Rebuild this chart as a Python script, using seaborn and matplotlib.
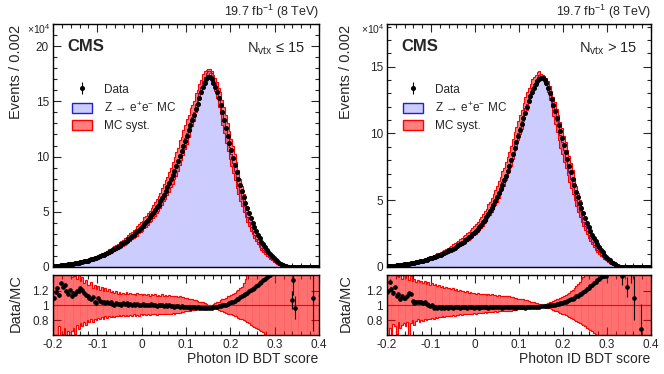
# Photon ID BDT score, data vs Z->ee MC, two pileup bins
import numpy as np
import pandas as pd
import matplotlib
matplotlib.use('Agg')
import matplotlib.pyplot as plt
from matplotlib.patches import Patch
from matplotlib.ticker import MultipleLocator
import seaborn as sns

sns.set_style('ticks')
plt.rcParams['font.family'] = ['Liberation Sans', 'DejaVu Sans']
plt.rcParams['mathtext.fontset'] = 'custom'
plt.rcParams['mathtext.rm'] = 'Liberation Sans'
plt.rcParams['mathtext.it'] = 'Liberation Sans:italic'
plt.rcParams['mathtext.bf'] = 'Liberation Sans:bold'
plt.rcParams['axes.unicode_minus'] = False

# 150 bins of 0.004 between -0.2 and 0.4 (values are events / 0.002, in units of 1e4)
edges = np.linspace(-0.2, 0.4, 151)
centers = 0.5 * (edges[:-1] + edges[1:])

# ---- N_vtx <= 15 ----
data_low = [
    0.08, 0.10, 0.11, 0.13, 0.15, 0.17, 0.19, 0.21, 0.23, 0.25,
    0.28, 0.30, 0.33, 0.36, 0.39, 0.42, 0.46, 0.50, 0.54, 0.58,
    0.63, 0.68, 0.73, 0.79, 0.85, 0.91, 0.98, 1.05, 1.12, 1.20,
    1.28, 1.36, 1.44, 1.53, 1.62, 1.72, 1.82, 1.93, 2.04, 2.15,
    2.27, 2.39, 2.52, 2.65, 2.79, 2.93, 3.08, 3.23, 3.39, 3.55,
    3.72, 3.90, 4.09, 4.28, 4.49, 4.70, 4.92, 5.15, 5.39, 5.64,
    5.95, 6.25, 6.56, 6.88, 7.22, 7.57, 7.93, 8.31, 8.70, 9.10,
    9.60, 10.05, 10.5, 10.95, 11.42, 11.9, 12.38, 12.85, 13.32, 13.78,
    14.3, 14.8, 15.3, 15.8, 16.3, 16.7, 17.0, 17.2, 17.2, 17.0,
    16.7, 16.3, 15.8, 15.3, 14.7, 14.0, 13.3, 12.6, 11.9, 11.2,
    10.6, 9.9, 9.25, 8.6, 8.0, 7.4, 6.85, 6.3, 5.8, 5.3,
    4.85, 4.4, 4.0, 3.6, 3.25, 2.9, 2.6, 2.3, 2.05, 1.8,
    1.58, 1.36, 1.16, 0.97, 0.80, 0.64, 0.50, 0.38, 0.28, 0.20,
    0.13, 0.08, 0.045, 0.018, 0.004, 0.0022, 0.002, 0.001, 0.0007, 0.0005,
    0.0004, 0.0003, 0.00025, 0.0002, 0.00015, 0.0002, 0.0003, 0.0001, 0.0001, 0.0001]
ratio_low = [
    1.10, 1.18, 1.23, 1.14, 1.30, 1.25, 1.28, 1.20, 1.16, 1.21,
    1.12, 1.17, 1.15, 1.20, 1.19, 1.23, 1.21, 1.17, 1.14, 1.12,
    1.10, 1.08, 1.11, 1.05, 1.03, 1.10, 1.06, 1.04, 1.05, 1.03,
    1.05, 1.03, 1.04, 1.02, 1.01, 1.03, 1.02, 1.02, 1.00, 1.03,
    1.02, 1.03, 1.01, 1.02, 1.00, 1.02, 1.01, 1.02, 1.00, 1.01,
    1.02, 1.00, 1.01, 1.01, 1.00, 1.02, 1.00, 1.01, 0.99, 1.00,
    1.01, 1.00, 0.99, 1.00, 0.99, 1.00, 0.99, 0.99, 0.98, 0.99,
    0.99, 0.98, 0.99, 0.98, 0.98, 0.98, 0.98, 0.97, 0.98, 0.98,
    0.97, 0.98, 0.97, 0.97, 0.97, 0.97, 0.97, 0.97, 0.97, 0.97,
    0.98, 0.98, 0.98, 0.99, 0.99, 1.00, 1.00, 1.01, 1.02, 1.03,
    1.04, 1.05, 1.06, 1.08, 1.09, 1.11, 1.12, 1.14, 1.16, 1.17,
    1.19, 1.21, 1.22, 1.24, 1.26, 1.28, 1.30, 1.32, 1.34, 1.36,
    1.38, 1.40, 1.41, 1.45, 1.48, 1.52, 1.56, 1.60, 1.65, 1.70,
    1.75, 1.85, 1.95, 2.10, 1.07, 1.34, 0.97, np.nan, np.nan, np.nan,
    np.nan, np.nan, np.nan, np.nan, np.nan, np.nan, 1.10, np.nan, np.nan, np.nan]
syst_up_low = [
    1.80, 1.60, 1.50, 1.70, 1.45, 1.90, 1.50, 1.60, 1.42, 1.50,
    1.38, 1.45, 1.40, 1.36, 1.42, 1.33, 1.38, 1.30, 1.34, 1.28,
    1.27, 1.31, 1.24, 1.28, 1.22, 1.26, 1.21, 1.25, 1.20, 1.23,
    1.19, 1.22, 1.18, 1.20, 1.17, 1.19, 1.16, 1.18, 1.15, 1.17,
    1.16, 1.18, 1.15, 1.17, 1.15, 1.16, 1.14, 1.17, 1.15, 1.16,
    1.14, 1.16, 1.14, 1.15, 1.13, 1.16, 1.14, 1.15, 1.13, 1.14,
    1.13, 1.15, 1.13, 1.14, 1.12, 1.14, 1.12, 1.13, 1.12, 1.13,
    1.11, 1.12, 1.11, 1.11, 1.10, 1.10, 1.09, 1.09, 1.08, 1.07,
    1.07, 1.06, 1.05, 1.04, 1.04, 1.03, 1.02, 1.01, 1.01, 1.01,
    1.02, 1.03, 1.04, 1.05, 1.07, 1.08, 1.09, 1.10, 1.12, 1.13,
    1.14, 1.16, 1.17, 1.19, 1.21, 1.23, 1.25, 1.30, 1.36, 1.42] + [2.0] * 40
syst_dn_low = [
    0.50, 0.60, 0.55, 0.72, 0.50, 0.62, 0.70, 0.55, 0.66, 0.58,
    0.65, 0.70, 0.62, 0.74, 0.68, 0.76, 0.72, 0.78, 0.74, 0.80,
    0.77, 0.81, 0.78, 0.82, 0.80, 0.83, 0.81, 0.84, 0.82, 0.85,
    0.83, 0.85, 0.84, 0.86, 0.84, 0.86, 0.85, 0.87, 0.85, 0.87,
    0.86, 0.87, 0.85, 0.87, 0.86, 0.88, 0.86, 0.87, 0.86, 0.88,
    0.87, 0.88, 0.87, 0.88, 0.87, 0.89, 0.88, 0.88, 0.87, 0.89,
    0.88, 0.89, 0.88, 0.89, 0.88, 0.89, 0.89, 0.90, 0.89, 0.90,
    0.90, 0.90, 0.91, 0.91, 0.92, 0.92, 0.93, 0.93, 0.94, 0.94,
    0.95, 0.95, 0.96, 0.96, 0.97, 0.97, 0.98, 0.98, 0.99, 0.98,
    0.97, 0.96, 0.95, 0.94, 0.93, 0.92, 0.91, 0.90, 0.89, 0.88,
    0.88, 0.87, 0.86, 0.85, 0.83, 0.82, 0.81, 0.80, 0.79, 0.77,
    0.76, 0.74, 0.72, 0.71, 0.70, 0.68, 0.67, 0.66, 0.64, 0.62] + [0.0] * 30

# ---- N_vtx > 15 ----
data_high = [
    0.07, 0.08, 0.09, 0.10, 0.11, 0.13, 0.14, 0.16, 0.18, 0.20,
    0.22, 0.24, 0.26, 0.28, 0.31, 0.33, 0.36, 0.39, 0.42, 0.45,
    0.48, 0.52, 0.56, 0.60, 0.64, 0.68, 0.73, 0.78, 0.83, 0.88,
    0.93, 0.99, 1.05, 1.11, 1.17, 1.24, 1.31, 1.38, 1.46, 1.54,
    1.62, 1.71, 1.80, 1.90, 2.00, 2.10, 2.21, 2.32, 2.44, 2.56,
    2.70, 2.85, 3.01, 3.18, 3.36, 3.55, 3.75, 3.96, 4.18, 4.41,
    4.68, 4.95, 5.24, 5.54, 5.85, 6.17, 6.50, 6.84, 7.19, 7.55,
    8.00, 8.45, 8.90, 9.35, 9.80, 10.25, 10.7, 11.14, 11.57, 11.98,
    12.4, 12.78, 13.12, 13.43, 13.7, 13.92, 14.07, 14.15, 14.12, 14.0,
    13.75, 13.4, 13.0, 12.58, 12.13, 11.66, 11.17, 10.67, 10.16, 9.65,
    9.13, 8.61, 8.09, 7.58, 7.08, 6.59, 6.11, 5.65, 5.21, 4.79,
    4.39, 4.01, 3.65, 3.31, 2.99, 2.69, 2.41, 2.15, 1.91, 1.69,
    1.48, 1.28, 1.10, 0.93, 0.77, 0.63, 0.50, 0.39, 0.30, 0.22,
    0.10, 0.05, 0.02, 0.0058, 0.004, 0.003, 0.0046, 0.003, 0.0014, 0.001,
    0.00067, 0.0005, 0.0004, 0.0003, 0.0002, 0.0002, 0.00015, 0.0001, 0.0001, 0.0001]
ratio_high = [
    1.19, 1.32, 1.22, 1.17, 1.25, 1.13, 1.15, 1.09, 1.12, 1.10,
    1.10, 1.12, 1.17, 1.15, 1.06, 1.03, 1.05, 1.04, 1.05, 1.04,
    1.03, 1.04, 1.02, 1.01, 0.99, 1.00, 0.97, 0.98, 0.97, 0.98,
    0.97, 0.98, 0.97, 0.98, 0.97, 0.98, 0.98, 0.97, 0.98, 0.98,
    0.98, 0.97, 0.98, 0.98, 0.98, 0.97, 0.98, 0.98, 0.98, 0.97,
    0.98, 0.98, 0.97, 0.98, 0.98, 0.98, 0.98, 0.97, 0.98, 0.98,
    0.98, 0.98, 0.98, 0.98, 0.98, 0.97, 0.98, 0.98, 0.98, 0.98,
    0.98, 0.98, 0.97, 0.98, 0.98, 0.98, 0.98, 0.98, 0.97, 0.98,
    0.98, 0.98, 0.98, 0.98, 0.98, 0.98, 0.98, 0.99, 0.99, 0.99,
    0.99, 0.99, 1.00, 1.00, 1.01, 1.01, 1.02, 1.02, 1.03, 1.03,
    1.04, 1.05, 1.06, 1.07, 1.08, 1.09, 1.10, 1.12, 1.13, 1.15,
    1.16, 1.18, 1.20, 1.22, 1.24, 1.26, 1.28, 1.30, 1.32, 1.34,
    1.36, 1.38, 1.39, 1.40, 1.40, 1.45, 1.50, 1.55, 1.60, 1.65,
    1.70, 1.80, 1.90, 1.40, np.nan, np.nan, 1.25, np.nan, 1.60, np.nan,
    1.10, np.nan, np.nan, np.nan, 0.68, np.nan, np.nan, np.nan, np.nan, np.nan]
syst_up_high = [
    1.90, 1.60, 1.50, 1.45, 1.80, 1.40, 1.38, 1.50, 1.36, 1.42,
    1.37, 1.45, 1.34, 1.40, 1.33, 1.36, 1.32, 1.34, 1.31, 1.33,
    1.30, 1.33, 1.29, 1.31, 1.28, 1.30, 1.27, 1.29, 1.26, 1.27,
    1.25, 1.26, 1.24, 1.25, 1.23, 1.24, 1.22, 1.23, 1.21, 1.22,
    1.20, 1.21, 1.19, 1.20, 1.18, 1.19, 1.17, 1.18, 1.17, 1.17,
    1.16, 1.17, 1.15, 1.16, 1.15, 1.16, 1.14, 1.15, 1.14, 1.15,
    1.14, 1.14, 1.13, 1.14, 1.13, 1.13, 1.12, 1.13, 1.12, 1.12,
    1.11, 1.11, 1.10, 1.10, 1.09, 1.09, 1.08, 1.08, 1.07, 1.07,
    1.06, 1.05, 1.05, 1.04, 1.03, 1.03, 1.02, 1.01, 1.01, 1.01,
    1.02, 1.03, 1.04, 1.05, 1.06, 1.07, 1.08, 1.09, 1.10, 1.11,
    1.12, 1.14, 1.15, 1.17, 1.19, 1.21, 1.23, 1.26, 1.29, 1.32,
    1.35, 1.38, 1.42] + [2.0] * 37
syst_dn_high = [
    0.55, 0.70, 0.60, 0.75, 0.72, 0.62, 0.78, 0.70, 0.74, 0.76,
    0.72, 0.78, 0.55, 0.76, 0.80, 0.74, 0.79, 0.81, 0.78, 0.80,
    0.79, 0.81, 0.80, 0.82, 0.81, 0.83, 0.82, 0.84, 0.83, 0.84,
    0.84, 0.85, 0.84, 0.86, 0.85, 0.86, 0.86, 0.87, 0.86, 0.87,
    0.87, 0.88, 0.87, 0.88, 0.88, 0.89, 0.88, 0.89, 0.89, 0.90,
    0.89, 0.90, 0.90, 0.90, 0.90, 0.91, 0.90, 0.91, 0.91, 0.91,
    0.91, 0.92, 0.91, 0.92, 0.92, 0.92, 0.92, 0.93, 0.93, 0.93,
    0.93, 0.94, 0.94, 0.94, 0.95, 0.95, 0.95, 0.96, 0.96, 0.96,
    0.97, 0.97, 0.97, 0.98, 0.98, 0.98, 0.99, 0.99, 0.99, 0.98,
    0.98, 0.97, 0.96, 0.95, 0.94, 0.93, 0.92, 0.91, 0.90, 0.89,
    0.88, 0.87, 0.86, 0.84, 0.83, 0.82, 0.80, 0.79, 0.78, 0.76,
    0.75, 0.73, 0.72, 0.70, 0.68, 0.67, 0.65, 0.63, 0.61, 0.59] + [0.0] * 30

xticks = [-0.2, -0.1, 0, 0.1, 0.2, 0.3, 0.4]
mc_color = '#ccccff'
syst_color = (1.0, 0.0, 0.0, 0.5)

fig = plt.figure(figsize=(6.64, 3.74), dpi=100)


def style_axes(ax):
    ax.tick_params(which='both', direction='in', top=True, right=True,
                   width=0.8, labelsize=8.5, pad=3)
    ax.tick_params(which='major', length=6)
    ax.tick_params(which='minor', length=3)
    for s in ax.spines.values():
        s.set_linewidth(1.0)
        s.set_color('black')


def draw_panel(left, width, data, ratio, up, dn, ymax, tag, leg_x):
    data = np.array(data)
    ratio = np.array(ratio, dtype=float)
    up = np.array(up)
    dn = np.array(dn)
    # bins without a ratio point: keep MC equal to data (tiny anyway)
    mc = np.where(np.isnan(ratio), data, data / ratio)
    nevt = 2e4 * data

    ax = fig.add_axes([left, 0.2861, width, 0.6497])
    rax = fig.add_axes([left, 0.1043, width, 0.1604])

    df = pd.DataFrame({'score': centers, 'mc': mc})
    sns.histplot(data=df, x='score', weights='mc', bins=list(edges),
                 element='step', fill=True, facecolor=mc_color,
                 edgecolor='#2020d0', linewidth=0.8, alpha=1, ax=ax, zorder=1)
    # the band drawn on the distribution itself is kept within -10 % / +20 %
    ax.stairs(mc * np.minimum(up, 1.2), edges, baseline=mc * np.maximum(dn, 0.9),
              fill=True, facecolor=syst_color, edgecolor='red', linewidth=0.8,
              zorder=2)
    eb = ax.errorbar(centers, data, yerr=data / np.sqrt(nevt), fmt='o', ms=2.6,
                     color='black', elinewidth=0.8, capsize=0, zorder=3)
    ax.set_xlim(-0.2, 0.4)
    ax.set_ylim(0, ymax)
    ax.set_xticks(xticks)
    ax.xaxis.set_minor_locator(MultipleLocator(0.02))
    ax.yaxis.set_major_locator(MultipleLocator(5))
    ax.yaxis.set_minor_locator(MultipleLocator(1))
    ax.set_xticklabels([])
    ax.set_xlabel('')
    ax.set_ylabel('')
    style_axes(ax)

    ax.text(14 / 266, (267 - 51) / 243, 'CMS', transform=ax.transAxes,
            fontsize=12, fontweight='bold', va='baseline')
    ax.text(1 - 14 / 266, (267 - 53) / 243, tag, transform=ax.transAxes,
            fontsize=10.5, ha='right', va='baseline')
    ax.text(-0.008, 1.008, '×10$^{4}$', transform=ax.transAxes,
            fontsize=7.5, ha='right', va='top')
    ax.text(1.0, 1.0 + 3 / 243, '19.7 fb$^{-1}$ (8 TeV)', transform=ax.transAxes,
            fontsize=9, ha='right', va='bottom')

    handles = [eb,
               Patch(facecolor=mc_color, edgecolor='#2020d0', linewidth=1),
               Patch(facecolor=syst_color, edgecolor='red', linewidth=1)]
    labels = ['Data', 'Z → e$^{+}$e$^{-}$ MC', 'MC syst.']
    ax.legend(handles, labels, loc='upper left', bbox_to_anchor=(leg_x, 0.754),
              frameon=False, borderpad=0, borderaxespad=0, fontsize=8.5,
              handlelength=1.7, handleheight=0.9, handletextpad=1.0,
              labelspacing=0.45)

    # ratio panel
    rax.bar(centers, up - dn, bottom=dn, width=0.004, facecolor='none',
            edgecolor=(1.0, 0.2, 0.2, 0.35), linewidth=0.3, zorder=1)
    rax.stairs(up, edges, baseline=dn, fill=True, facecolor=syst_color,
               edgecolor='red', linewidth=0.8, zorder=1)
    rax.axhline(1.0, color='red', linewidth=0.8, zorder=2)
    rax.errorbar(centers, ratio, yerr=ratio / np.sqrt(nevt), fmt='o', ms=2.3,
                 color='black', elinewidth=0.8, capsize=0, zorder=3)
    rax.set_xlim(-0.2, 0.4)
    rax.set_ylim(0.6, 1.41)
    rax.set_xticks(xticks)
    rax.set_xticklabels(['%g' % t for t in xticks])
    rax.xaxis.set_minor_locator(MultipleLocator(0.02))
    rax.set_yticks([0.8, 1.0, 1.2])
    rax.set_yticklabels(['0.8', '1', '1.2'])
    style_axes(rax)
    return ax, rax


draw_panel(53 / 664, 266 / 664, data_low, ratio_low, syst_up_low, syst_dn_low,
           22.0, r'N$_{\mathrm{vtx}}$ ≤ 15', 0.071)
draw_panel(387 / 664, 264 / 664, data_high, ratio_high, syst_up_high, syst_dn_high,
           18.2, r'N$_{\mathrm{vtx}}$ > 15', 0.061)

# axis titles, ROOT style placement
for xl, xr in [(16, 318), (346, 650)]:
    fig.text(xl / 664, 1 - 25 / 374, 'Events / 0.002', rotation=90,
             ha='center', va='top', fontsize=10.5)
    fig.text(xl / 664, 1 - 303 / 374, 'Data/MC', rotation=90,
             ha='center', va='center', fontsize=10.5)
    fig.text(xr / 664, 1 - 363 / 374, 'Photon ID BDT score',
             ha='right', va='baseline', fontsize=10)

fig.savefig('out.png', dpi=100)
